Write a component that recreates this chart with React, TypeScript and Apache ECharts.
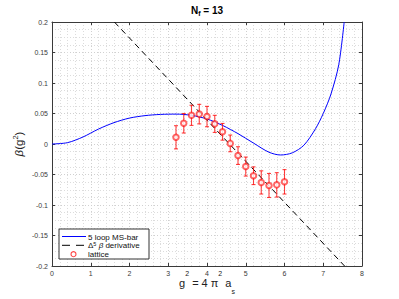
import React, { useEffect, useRef } from 'react';
import * as echarts from 'echarts';

// 5-loop MS-bar curve
const curveX = [0, 0.4, 0.8, 1.2, 1.6, 2.0, 2.4, 2.8, 3.2, 3.6, 4.0, 4.4, 4.8, 5.2, 5.6, 5.9, 6.2, 6.5, 6.8, 7.0, 7.2, 7.4, 7.54];
const curveY = [0, 0.0022, 0.0115, 0.0245, 0.035, 0.0425, 0.0465, 0.0485, 0.049, 0.047, 0.041, 0.0305, 0.017, 0.0015, -0.0135, -0.018, -0.0145, -0.002, 0.025, 0.05, 0.082, 0.13, 0.2];

// Delta^5 beta derivative line (endpoints at plot frame)
const derivX = [1.61, 7.55];
const derivY = [0.2, -0.2];

// lattice points
const latticeX = [3.2, 3.4, 3.6, 3.8, 4.0, 4.2, 4.4, 4.6, 4.8, 5.0, 5.2, 5.4, 5.6, 5.8, 6.0];
const latticeY = [0.011, 0.034, 0.047, 0.049, 0.045, 0.033, 0.020, 0.001, -0.019, -0.037, -0.052, -0.063, -0.068, -0.067, -0.062];
const latticeErr = [0.019, 0.016, 0.0165, 0.016, 0.0167, 0.014, 0.0137, 0.0137, 0.0145, 0.0156, 0.0145, 0.019, 0.0197, 0.02, 0.02];

// legend entries
const legendLabels = ['5 loop MS-bar', '{t|\u0394}{p|5}{t| }{i|\u03b2}{t| derivative}', 'lattice'];

const xMin = 0, xMax = 8, xStep = 1;
const yMin = -0.2, yMax = 0.2, yStep = 0.05;

const FONT = '"Liberation Sans", Arial, Helvetica, sans-serif';
const RED = 'rgba(255,0,0,0.75)';
const AX = '#3a3a3a';

export default function App() {
  const ref = useRef<HTMLDivElement>(null);
  useEffect(() => {
    const chart = echarts.init(ref.current as HTMLDivElement, null, { renderer: 'svg' });
    const gridLine = { show: true, lineStyle: { color: '#d0d0d0', type: [1, 2] as any, width: 1 } };
    const minorLine = { show: true, lineStyle: { color: '#dcdcdc', type: [1, 2] as any, width: 1 } };
    const baseAxisX = {
      type: 'value', min: xMin, max: xMax, interval: xStep,
      axisLine: { show: true, onZero: false, lineStyle: { color: AX, width: 1 } },
      axisTick: { show: true, inside: true, length: 3, lineStyle: { color: AX } },
    };
    const baseAxisY = {
      type: 'value', min: yMin, max: yMax, interval: yStep,
      axisLine: { show: true, onZero: false, lineStyle: { color: AX, width: 1 } },
      axisTick: { show: true, inside: true, length: 3, lineStyle: { color: AX } },
    };
    const legRich = {
      t: { fontSize: 8, fontFamily: FONT, fill: '#111', lineHeight: 9, verticalAlign: 'bottom' },
      p: { fontSize: 5.5, fontFamily: FONT, fill: '#111', lineHeight: 6, verticalAlign: 'top' },
      i: { fontSize: 8, fontFamily: FONT, fontStyle: 'italic', fill: '#111', lineHeight: 9, verticalAlign: 'bottom' },
    };
    const lx = 59, ly = 229, lw = 90, lh = 30;
    const rowY = [236.5, 245.3, 254.2];
    const legendGraphics: any[] = [
      { type: 'rect', shape: { x: lx, y: ly, width: lw, height: lh }, style: { fill: '#fff', stroke: '#333', lineWidth: 1 }, z: 100 },
      { type: 'line', shape: { x1: 62, y1: rowY[0], x2: 86, y2: rowY[0] }, style: { stroke: '#0000ff', lineWidth: 1 }, z: 101 },
      { type: 'line', shape: { x1: 62, y1: rowY[1], x2: 86, y2: rowY[1] }, style: { stroke: '#000', lineWidth: 1, lineDash: [8, 6] }, z: 101 },
      { type: 'circle', shape: { cx: 73.5, cy: rowY[2], r: 2.5 }, style: { fill: '#fff', stroke: RED, lineWidth: 1.1 }, z: 101 },
      ...legendLabels.map((lab, i) => ({
        type: 'text', x: 88, y: rowY[i], z: 101,
        style: {
          text: i === 1 ? lab : '{t|' + lab + '}',
          textVerticalAlign: 'middle', textAlign: 'left',
          rich: legRich,
        },
      })),
    ];
    const option: any = {
      animation: false,
      backgroundColor: '#fff',
      textStyle: { fontFamily: FONT },
      grid: { left: 52, right: 37, top: 22, bottom: 33, containLabel: false, outerBoundsMode: 'none' },
      graphic: [
        {
          type: 'text', x: 207, y: 10,
          style: {
            text: '{b|N}{s|f}{b| = 13}',
            textAlign: 'center', textVerticalAlign: 'middle',
            rich: {
              b: { fontSize: 10, fontWeight: 'bold', fontFamily: FONT, fill: '#000', lineHeight: 14, verticalAlign: 'middle' },
              s: { fontSize: 7, fontWeight: 'bold', fontFamily: FONT, fill: '#000', lineHeight: 10, verticalAlign: 'bottom' },
            },
          },
        },
        ...legendGraphics,
      ],
      xAxis: [
        {
          ...baseAxisX, position: 'bottom',
          axisLabel: { fontSize: 7, color: AX, margin: 4, fontFamily: FONT },
          splitLine: gridLine,
          minorTick: { show: false, splitNumber: 5 },
          minorSplitLine: minorLine,
          name: '{m|g}{p|2}{m| = 4 \u03c0}{p|2}{m| a}{q|s}',
          nameLocation: 'middle', nameGap: 4, nameMoveOverlap: false,
          nameTextStyle: {
            rich: {
              m: { fontSize: 11, fontFamily: FONT, color: '#222', lineHeight: 25, verticalAlign: 'middle' },
              p: { fontSize: 7, fontFamily: FONT, color: '#222', lineHeight: 8, verticalAlign: 'top' },
              q: { fontSize: 7, fontFamily: FONT, color: '#222', lineHeight: 8, verticalAlign: 'bottom' },
            },
          },
        },
        {
          ...baseAxisX, position: 'top',
          axisLabel: { show: false }, splitLine: { show: false },
        },
      ],
      yAxis: [
        {
          ...baseAxisY, position: 'left',
          axisLabel: {
            fontSize: 7, color: AX, margin: 4, fontFamily: FONT,
            formatter: (v: number) => String(+v.toFixed(3)),
          },
          splitLine: gridLine,
          minorTick: { show: false, splitNumber: 4 },
          minorSplitLine: minorLine,
          name: '{i|\u03b2}{m|(g}{p|2}{m|)}',
          nameLocation: 'middle', nameGap: 25, nameRotate: 90, nameMoveOverlap: false,
          nameTextStyle: {
            rich: {
              i: { fontSize: 11.5, fontFamily: FONT, fontStyle: 'italic', color: '#222', lineHeight: 16, verticalAlign: 'middle' },
              m: { fontSize: 11.5, fontFamily: FONT, color: '#222', lineHeight: 16, verticalAlign: 'middle' },
              p: { fontSize: 7.5, fontFamily: FONT, color: '#222', lineHeight: 8, verticalAlign: 'top' },
            },
          },
        },
        {
          ...baseAxisY, position: 'right',
          axisLabel: { show: false }, splitLine: { show: false },
        },
      ],
      series: [
        {
          name: '5 loop MS-bar', type: 'line',
          data: curveX.map((x, i) => [x, curveY[i]]),
          smooth: 0.3, showSymbol: false, symbol: 'none', clip: true,
          lineStyle: { color: '#0000ff', width: 1 },
          itemStyle: { color: '#0000ff' },
          z: 2,
        },
        {
          name: 'deriv', type: 'line',
          data: derivX.map((x, i) => [x, derivY[i]]),
          showSymbol: false, symbol: 'none', clip: true,
          lineStyle: { color: '#000', width: 1, type: [6, 4] },
          itemStyle: { color: '#000' },
          z: 2,
        },
        {
          name: 'errbars', type: 'custom',
          data: latticeX.map((x, i) => [x, latticeY[i] - latticeErr[i], latticeY[i] + latticeErr[i]]),
          encode: { x: 0, y: [1, 2] },
          renderItem: (params: any, api: any) => {
            const x = api.value(0);
            const lo = api.coord([x, api.value(1)]);
            const hi = api.coord([x, api.value(2)]);
            const w = 2;
            const st = { stroke: RED, lineWidth: 1.1 };
            return {
              type: 'group',
              children: [
                { type: 'line', shape: { x1: lo[0], y1: lo[1], x2: hi[0], y2: hi[1] }, style: st },
                { type: 'line', shape: { x1: lo[0] - w, y1: lo[1], x2: lo[0] + w, y2: lo[1] }, style: st },
                { type: 'line', shape: { x1: hi[0] - w, y1: hi[1], x2: hi[0] + w, y2: hi[1] }, style: st },
              ],
            };
          },
          z: 3,
        },
        {
          name: 'lattice', type: 'scatter',
          data: latticeX.map((x, i) => [x, latticeY[i]]),
          symbol: 'emptyCircle', symbolSize: 5.5,
          itemStyle: { color: RED, borderColor: RED, borderWidth: 1 },
          z: 4,
        },
      ],
    };
    chart.setOption(option);
    return () => chart.dispose();
  }, []);
  return <div ref={ref} style={{ position: 'absolute', left: 0, top: 0, width: 399, height: 299 }} />;
}
